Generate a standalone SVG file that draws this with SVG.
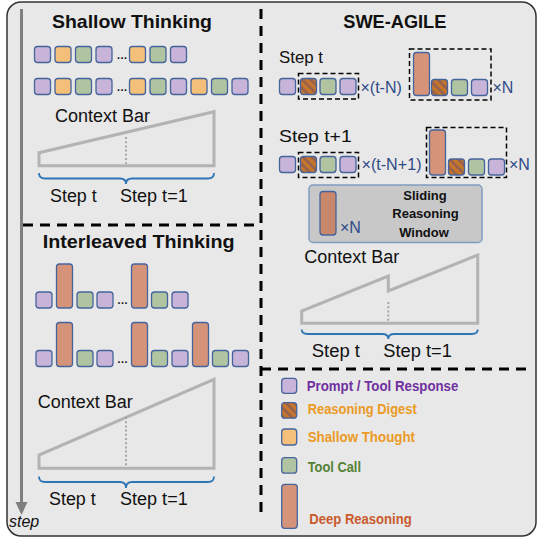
<svg xmlns="http://www.w3.org/2000/svg" width="539" height="538" viewBox="0 0 539 538">
  <defs>
    <style>
      .t { font-family: "Liberation Sans", Arial, sans-serif; fill: #111; }
      .title { font-weight: bold; font-size: 19px; }
      .lbl { font-size: 18px; }
      .slbl { font-size: 17px; }
      .mult { font-size: 16px; fill: #2f4a86; }
      .dots { font-size: 11px; font-weight: bold; }
      .leg { font-size: 14px; font-weight: bold; }
      .sq { stroke: #46649c; stroke-width: 1.3; }
      .p { fill: #c8b4d8; }
      .o { fill: #f4bf78; }
      .g { fill: #b0c4a2; }
      .d { fill: #d59479; }
      .h { fill: url(#hatch); }
      .bar { fill: none; stroke: #b3b3b3; stroke-width: 3; stroke-linejoin: miter; }
      .dotted { stroke: #a6a6a6; stroke-width: 2; stroke-dasharray: 2 2.2; }
      .brace { fill: none; stroke: #2e75b6; stroke-width: 1.8; }
      .sep { fill: none; stroke: #000; stroke-width: 3; stroke-dasharray: 10 7; }
      .win { fill: none; stroke: #000; stroke-width: 1.5; stroke-dasharray: 5 3; }
    </style>
    <pattern id="hatch" patternUnits="userSpaceOnUse" width="6" height="6" patternTransform="rotate(-45)">
      <rect width="6" height="6" fill="#c8772a"/>
      <rect width="2.6" height="6" fill="#94604f"/>
    </pattern>
  </defs>

  <!-- panel background -->
  <rect x="7" y="2" width="529" height="534" rx="14" fill="#e8e8e8" stroke="#333" stroke-width="1.5"/>

  <!-- separators -->
  <g id="separators">
    <line class="sep" x1="261" y1="9" x2="261" y2="512"/>
    <line class="sep" x1="23" y1="225" x2="261" y2="225"/>
    <line class="sep" x1="261" y1="369" x2="533" y2="369"/>
  </g>

  <!-- time axis -->
  <g id="connectors">
    <line x1="21.5" y1="9" x2="21.5" y2="503" stroke="#7f7f7f" stroke-width="3"/>
    <polygon points="15.5,502 27.5,502 21.5,515" fill="#7f7f7f"/>
    <text class="t" x="9" y="527" font-size="16" font-style="italic">step</text>
  </g>

  <!-- Shallow Thinking -->
  <g id="shallow">
    <text class="t title" x="52" y="28" textLength="160" lengthAdjust="spacingAndGlyphs">Shallow Thinking</text>
    <g id="shallow-row1">
      <rect class="sq p" x="34.5" y="46.5" width="16" height="16" rx="3"/>
      <rect class="sq o" x="55" y="46.5" width="16" height="16" rx="3"/>
      <rect class="sq g" x="75.5" y="46.5" width="16" height="16" rx="3"/>
      <rect class="sq p" x="96" y="46.5" width="16" height="16" rx="3"/>
      <text class="t dots" x="116.5" y="58.5">…</text>
      <rect class="sq o" x="129.5" y="46.5" width="16" height="16" rx="3"/>
      <rect class="sq g" x="150" y="46.5" width="16" height="16" rx="3"/>
      <rect class="sq p" x="170.5" y="46.5" width="16" height="16" rx="3"/>
    </g>
    <g id="shallow-row2">
      <rect class="sq p" x="34.5" y="78.5" width="16" height="16" rx="3"/>
      <rect class="sq o" x="55" y="78.5" width="16" height="16" rx="3"/>
      <rect class="sq g" x="75.5" y="78.5" width="16" height="16" rx="3"/>
      <rect class="sq p" x="96" y="78.5" width="16" height="16" rx="3"/>
      <text class="t dots" x="116.5" y="90.5">…</text>
      <rect class="sq o" x="129.5" y="78.5" width="16" height="16" rx="3"/>
      <rect class="sq g" x="150" y="78.5" width="16" height="16" rx="3"/>
      <rect class="sq p" x="170.5" y="78.5" width="16" height="16" rx="3"/>
      <rect class="sq o" x="191" y="78.5" width="16" height="16" rx="3"/>
      <rect class="sq g" x="211.5" y="78.5" width="16" height="16" rx="3"/>
      <rect class="sq p" x="232" y="78.5" width="16" height="16" rx="3"/>
    </g>
    <g id="shallow-context">
      <text class="t lbl" x="55" y="121.5">Context Bar</text>
      <polygon class="bar" points="39,165.7 39,152.7 214,111.7 214,165.7"/>
      <line class="dotted" x1="126" y1="137" x2="126" y2="164"/>
      <path class="brace" d="M39,173 Q39,178.5 45,178.5 L120,178.5 Q126,178.5 126,184 Q126,178.5 132,178.5 L208,178.5 Q214,178.5 214,173"/>
      <text class="t lbl" x="50" y="201.5" textLength="46.7" lengthAdjust="spacingAndGlyphs">Step t</text>
      <text class="t lbl" x="120" y="201.5" textLength="67.7" lengthAdjust="spacingAndGlyphs">Step t=1</text>
    </g>
  </g>

  <!-- Interleaved Thinking -->
  <g id="interleaved">
    <text class="t title" x="42.7" y="248.3" textLength="192" lengthAdjust="spacingAndGlyphs">Interleaved Thinking</text>
    <g id="interleaved-row1">
      <rect class="sq p" x="36" y="292" width="16" height="16" rx="3"/>
      <rect class="sq d" x="56.5" y="264" width="16" height="44" rx="3"/>
      <rect class="sq g" x="77" y="292" width="16" height="16" rx="3"/>
      <rect class="sq p" x="97" y="292" width="16" height="16" rx="3"/>
      <text class="t dots" x="117" y="303.5">…</text>
      <rect class="sq d" x="131.5" y="264" width="16" height="44" rx="3"/>
      <rect class="sq g" x="151.5" y="292" width="16" height="16" rx="3"/>
      <rect class="sq p" x="172" y="292" width="16" height="16" rx="3"/>
    </g>
    <g id="interleaved-row2">
      <rect class="sq p" x="36" y="350.5" width="16" height="16" rx="3"/>
      <rect class="sq d" x="56.5" y="322.5" width="16" height="44" rx="3"/>
      <rect class="sq g" x="77" y="350.5" width="16" height="16" rx="3"/>
      <rect class="sq p" x="97" y="350.5" width="16" height="16" rx="3"/>
      <text class="t dots" x="117" y="363">…</text>
      <rect class="sq d" x="131.5" y="322.5" width="16" height="44" rx="3"/>
      <rect class="sq g" x="151.5" y="350.5" width="16" height="16" rx="3"/>
      <rect class="sq p" x="172" y="350.5" width="16" height="16" rx="3"/>
      <rect class="sq d" x="192.5" y="322.5" width="16" height="44" rx="3"/>
      <rect class="sq g" x="212.5" y="350.5" width="16" height="16" rx="3"/>
      <rect class="sq p" x="232.5" y="350.5" width="16" height="16" rx="3"/>
    </g>
    <g id="interleaved-context">
      <text class="t lbl" x="37.7" y="408.3">Context Bar</text>
      <polygon class="bar" points="39,468.3 39,455 214,379.3 214,468.3"/>
      <line class="dotted" x1="126" y1="417" x2="126" y2="467"/>
      <path class="brace" d="M39,476.5 Q39,482 45,482 L120,482 Q126,482 126,488 Q126,482 132,482 L208,482 Q214,482 214,476.5"/>
      <text class="t lbl" x="49" y="505" textLength="46.7" lengthAdjust="spacingAndGlyphs">Step t</text>
      <text class="t lbl" x="120" y="505" textLength="67.7" lengthAdjust="spacingAndGlyphs">Step t=1</text>
    </g>
  </g>

  <!-- SWE-AGILE -->
  <g id="swe-agile">
    <text class="t title" x="343.3" y="27.5" textLength="103" lengthAdjust="spacingAndGlyphs">SWE-AGILE</text>

    <g id="step-t">
      <text class="t slbl" x="279" y="63.3" textLength="44" lengthAdjust="spacingAndGlyphs">Step t</text>
      <rect class="sq p" x="279.5" y="78.5" width="16" height="16" rx="3"/>
      <rect class="win" x="298.5" y="73.5" width="60" height="25.5"/>
      <rect class="sq h" x="300.5" y="78.5" width="16" height="16" rx="3"/>
      <rect class="sq g" x="320" y="78.5" width="16" height="16" rx="3"/>
      <rect class="sq p" x="340" y="78.5" width="16" height="16" rx="3"/>
      <text class="t mult" x="360.5" y="93" textLength="41.3" lengthAdjust="spacingAndGlyphs">×(t-N)</text>
      <rect class="win" x="409.5" y="49" width="81.5" height="51"/>
      <rect class="sq d" x="413.5" y="52.5" width="16" height="43" rx="3"/>
      <rect class="sq h" x="431.5" y="79.5" width="16" height="16" rx="3"/>
      <rect class="sq g" x="451.5" y="79.5" width="16" height="16" rx="3"/>
      <rect class="sq p" x="471.5" y="79.5" width="16" height="16" rx="3"/>
      <text class="t mult" x="492.5" y="93">×N</text>
    </g>

    <g id="step-t1">
      <text class="t slbl" x="279" y="142.3" textLength="72.7" lengthAdjust="spacingAndGlyphs">Step t+1</text>
      <rect class="sq p" x="279.5" y="156.5" width="16" height="16" rx="3"/>
      <rect class="win" x="298.5" y="152.5" width="60" height="25"/>
      <rect class="sq h" x="300.5" y="156.5" width="16" height="16" rx="3"/>
      <rect class="sq g" x="320" y="156.5" width="16" height="16" rx="3"/>
      <rect class="sq p" x="340" y="156.5" width="16" height="16" rx="3"/>
      <text class="t mult" x="361.5" y="170" textLength="60" lengthAdjust="spacingAndGlyphs">×(t-N+1)</text>
      <rect class="win" x="426.5" y="127.5" width="80" height="50"/>
      <rect class="sq d" x="429.5" y="130" width="16" height="45" rx="3"/>
      <rect class="sq h" x="448.5" y="159" width="16" height="16" rx="3"/>
      <rect class="sq g" x="468.5" y="159" width="16" height="16" rx="3"/>
      <rect class="sq p" x="488.5" y="159" width="16" height="16" rx="3"/>
      <text class="t mult" x="509" y="170">×N</text>
    </g>

    <g id="sliding-window">
      <rect x="309" y="185" width="173" height="57.5" rx="4" fill="#c8c8c8" stroke="#7f9cc0" stroke-width="1.5"/>
      <rect class="sq" x="320" y="191.5" width="16" height="43.5" rx="3" fill="#c8866a"/>
      <text class="t mult" x="340" y="232.5">×N</text>
      <text class="t" font-size="13" font-weight="bold" text-anchor="middle" x="425" y="200">Sliding</text>
      <text class="t" font-size="13" font-weight="bold" text-anchor="middle" x="425.5" y="218.3">Reasoning</text>
      <text class="t" font-size="13" font-weight="bold" text-anchor="middle" x="424" y="236.7">Window</text>
    </g>

    <g id="swe-context">
      <text class="t lbl" x="304.3" y="263.3">Context Bar</text>
      <polygon class="bar" points="301.7,323.3 301.7,311 388.3,276 388.3,291 477.7,255 477.7,323.3"/>
      <line class="dotted" x1="388.3" y1="302" x2="388.3" y2="322"/>
      <path class="brace" d="M301.7,329.5 Q301.7,334 307.7,334 L382.3,334 Q388.3,334 388.3,339 Q388.3,334 394.3,334 L471.7,334 Q477.7,334 477.7,329.5"/>
      <text class="t lbl" x="311.7" y="357.3" textLength="48.3" lengthAdjust="spacingAndGlyphs">Step t</text>
      <text class="t lbl" x="383.3" y="357.3" textLength="68.5" lengthAdjust="spacingAndGlyphs">Step t=1</text>
    </g>
  </g>

  <!-- Legend -->
  <g id="legend">
    <g id="legend-prompt">
      <rect class="sq p" x="281.7" y="378.3" width="15" height="15" rx="3"/>
      <text class="t leg" x="306.7" y="391" style="fill:#7030a0" textLength="151.7" lengthAdjust="spacingAndGlyphs">Prompt / Tool Response</text>
    </g>
    <g id="legend-digest">
      <rect class="sq h" x="281.7" y="402.7" width="15" height="15.5" rx="3"/>
      <text class="t leg" x="307.7" y="414" style="fill:#eb9a24" textLength="109" lengthAdjust="spacingAndGlyphs">Reasoning Digest</text>
    </g>
    <g id="legend-shallow">
      <rect class="sq o" x="281.7" y="429" width="15" height="16" rx="3"/>
      <text class="t leg" x="307.7" y="442" style="fill:#eb9a24" textLength="107.3" lengthAdjust="spacingAndGlyphs">Shallow Thought</text>
    </g>
    <g id="legend-tool">
      <rect class="sq g" x="281.7" y="457.7" width="15" height="15.5" rx="3"/>
      <text class="t leg" x="307.7" y="471.5" style="fill:#548235" textLength="53.3" lengthAdjust="spacingAndGlyphs">Tool Call</text>
    </g>
    <g id="legend-deep">
      <rect class="sq d" x="281.7" y="484.3" width="15.6" height="44" rx="3"/>
      <text class="t leg" x="309.3" y="523.5" style="fill:#c85a2c" textLength="102.4" lengthAdjust="spacingAndGlyphs">Deep Reasoning</text>
    </g>
  </g>
</svg>
